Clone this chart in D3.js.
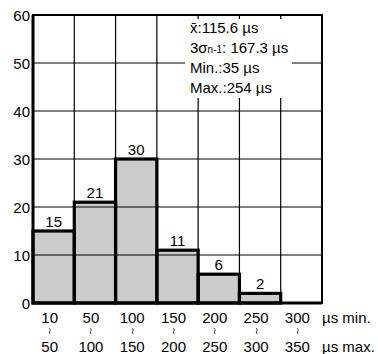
<!DOCTYPE html>
<html><head><meta charset="utf-8">
<script src="https://cdn.jsdelivr.net/npm/d3@7"></script>
<style>body{margin:0;background:#fff}svg{display:block}text{font-family:"Liberation Sans",Arial,sans-serif}</style>
</head><body>
<script>
const minLabels = ["10","50","100","150","200","250","300"];
const maxLabels = ["50","100","150","200","250","300","350"];
const counts = [15,21,30,11,6,2,0];
const yTicks = [0,10,20,30,40,50,60];
const statLines = ["x̄:115.6 µs","3σ|n-1|: 167.3 µs","Min.:35 µs","Max.:254 µs"];

const W=378,H=354;
const svg=d3.select("body").append("svg").attr("width",W).attr("height",H);
const x=d3.scaleBand().domain(minLabels).range([33,322]).padding(0);
const y=d3.scaleLinear().domain([0,60]).range([303,15]);
const data=counts.map((c,i)=>({c,k:minLabels[i]})).filter(d=>d.c>0);

// bar fills
svg.selectAll(".bar").data(data).join("rect")
  .attr("x",d=>x(d.k)).attr("width",x.bandwidth())
  .attr("y",d=>y(d.c)).attr("height",d=>y(0)-y(d.c))
  .attr("fill","#cccccc");

// grid
const g=svg.append("g");
g.selectAll(".hg").data(yTicks.slice(1,6)).join("line")
  .attr("x1",33).attr("x2",322).attr("y1",d=>y(d)).attr("y2",d=>y(d))
  .attr("stroke","#000").attr("stroke-width",1.2);
g.selectAll(".vg").data(minLabels.slice(1)).join("line")
  .attr("x1",d=>x(d)).attr("x2",d=>x(d)).attr("y1",15).attr("y2",303)
  .attr("stroke","#000").attr("stroke-width",1.2);

// bar outlines
svg.selectAll(".bar2").data(data).join("rect")
  .attr("x",d=>x(d.k)).attr("width",x.bandwidth())
  .attr("y",d=>y(d.c)).attr("height",d=>y(0)-y(d.c))
  .attr("fill","none").attr("stroke","#000").attr("stroke-width",3.2);

// stats box (masks grid)
svg.append("rect").attr("x",185).attr("y",19).attr("width",107).attr("height",79).attr("fill","#fff");
const st=svg.append("g").attr("font-size",15);
statLines.forEach((s,i)=>{
  const t=st.append("text").attr("x",190).attr("y",33+i*20);
  if(s.includes("|")){
    const p=s.split("|");
    t.append("tspan").text(p[0]);
    t.append("tspan").attr("font-size",10).text(p[1]);
    t.append("tspan").text(p[2]);
  } else t.text(s);
});

svg.selectAll(".vl").data(data).join("text")
  .attr("x",d=>x(d.k)+x.bandwidth()/2).attr("y",d=>y(d.c)-4)
  .attr("text-anchor","middle").attr("font-size",15).text(d=>d.c);

// frame
svg.append("rect").attr("x",33).attr("y",15).attr("width",289).attr("height",288)
  .attr("fill","none").attr("stroke","#000").attr("stroke-width",2);
svg.append("path").attr("d","M33,15V303H322").attr("fill","none").attr("stroke","#000").attr("stroke-width",3);

// y axis labels
svg.selectAll(".yl").data(yTicks).join("text")
  .attr("x",30).attr("y",d=>y(d)+6).attr("text-anchor","end").attr("font-size",15).text(d=>d);

// x labels
const xl=svg.append("g").attr("font-size",15).attr("text-anchor","middle");
minLabels.forEach((m,i)=>{
  const cx=x(m)+x.bandwidth()/2-4;
  xl.append("text").attr("x",cx).attr("y",323).text(m);
  xl.append("text").attr("x",cx).attr("y",334).attr("font-size",9).attr("font-family","DejaVu Sans").text("≀");
  xl.append("text").attr("x",cx).attr("y",352).text(maxLabels[i]);
});
svg.append("text").attr("x",322).attr("y",323).attr("font-size",15).text("µs min.");
svg.append("text").attr("x",322).attr("y",352).attr("font-size",15).text("µs max.");
</script>
</body></html>
